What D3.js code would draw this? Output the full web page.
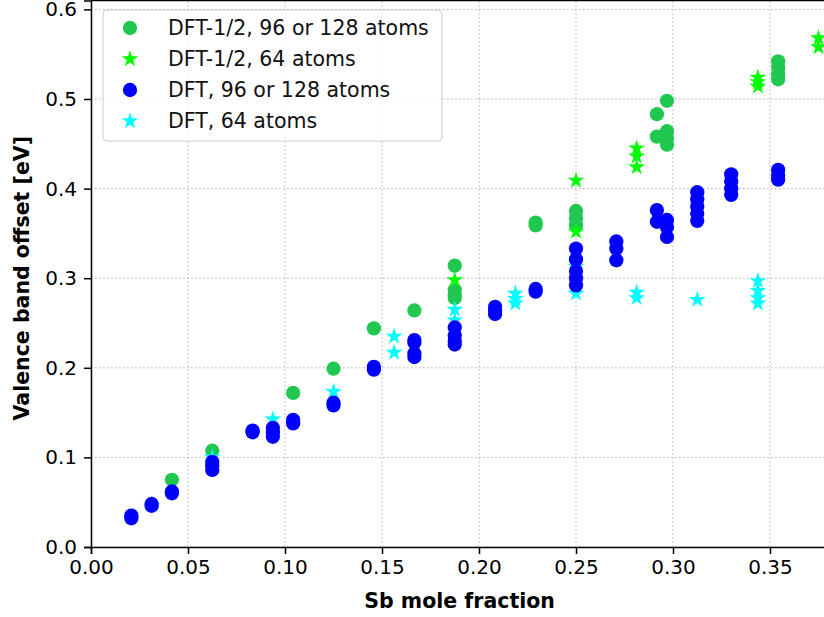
<!DOCTYPE html>
<html>
<head>
<meta charset="utf-8">
<script src="https://cdnjs.cloudflare.com/ajax/libs/d3/7.8.5/d3.min.js"></script>
<style>
  body { margin: 0; background: #fff; }
  svg { display: block; font-family: "DejaVu Sans", sans-serif; }
</style>
</head>
<body>
<div id="chart"></div>
<script>
// tick labels
const xTicks = [0, 0.05, 0.10, 0.15, 0.20, 0.25, 0.30, 0.35];
const yTicks = [0, 0.1, 0.2, 0.3, 0.4, 0.5, 0.6];

// DFT-1/2, 96 or 128 atoms
const halfBigX = [0.0417, 0.0625, 0.1042, 0.125, 0.1458, 0.1667,
    0.1875, 0.1875, 0.1875, 0.1875, 0.2292, 0.2292, 0.25, 0.25, 0.25,
    0.2917, 0.2917, 0.2969, 0.2969, 0.2969, 0.2969,
    0.3542, 0.3542, 0.3542, 0.3542];
const halfBigY = [0.075, 0.1075, 0.172, 0.199, 0.244, 0.264,
    0.314, 0.287, 0.281, 0.278, 0.362, 0.359, 0.375, 0.367, 0.359,
    0.483, 0.458, 0.498, 0.464, 0.456, 0.449,
    0.542, 0.535, 0.528, 0.522];

// DFT-1/2, 64 atoms
const halfSmallX = [0.1875, 0.25, 0.25, 0.28125, 0.28125, 0.28125,
    0.34375, 0.34375, 0.34375, 0.375, 0.375];
const halfSmallY = [0.298, 0.409, 0.352, 0.445, 0.436, 0.424,
    0.524, 0.519, 0.514, 0.568, 0.558];

// DFT, 96 or 128 atoms
const dftBigX = [0.0208, 0.0208, 0.03125, 0.03125, 0.0417, 0.0417,
    0.0625, 0.0625, 0.0625, 0.0833, 0.0833, 0.09375, 0.09375, 0.09375,
    0.1042, 0.1042, 0.125, 0.125, 0.1458, 0.1458,
    0.1667, 0.1667, 0.1667, 0.1667, 0.1875, 0.1875, 0.1875, 0.1875,
    0.2083, 0.2083, 0.2083, 0.2292, 0.2292,
    0.25, 0.25, 0.25, 0.25, 0.25, 0.2708, 0.2708, 0.2708,
    0.2917, 0.2917, 0.2969, 0.2969, 0.2969,
    0.3125, 0.3125, 0.3125, 0.3125, 0.3125,
    0.33, 0.33, 0.33, 0.33, 0.3542, 0.3542, 0.3542];
const dftBigY = [0.032, 0.035, 0.046, 0.048, 0.060, 0.062,
    0.086, 0.091, 0.095, 0.128, 0.130, 0.123, 0.128, 0.133,
    0.138, 0.142, 0.158, 0.161, 0.198, 0.201,
    0.231, 0.228, 0.216, 0.212, 0.245, 0.236, 0.230, 0.226,
    0.268, 0.264, 0.260, 0.285, 0.288,
    0.333, 0.321, 0.308, 0.300, 0.292, 0.341, 0.333, 0.320,
    0.376, 0.363, 0.365, 0.357, 0.346,
    0.396, 0.388, 0.380, 0.372, 0.364,
    0.416, 0.408, 0.400, 0.393, 0.421, 0.415, 0.410];

// DFT, 64 atoms
const dftSmallX = [0.03125, 0.0625, 0.09375, 0.125, 0.15625, 0.15625,
    0.1875, 0.1875, 0.21875, 0.21875, 0.21875, 0.25, 0.25,
    0.28125, 0.28125, 0.3125, 0.34375, 0.34375, 0.34375, 0.34375];
const dftSmallY = [0.047, 0.100, 0.1425, 0.1734, 0.235, 0.217,
    0.265, 0.253, 0.283, 0.277, 0.272, 0.313, 0.283,
    0.284, 0.278, 0.276, 0.297, 0.286, 0.278, 0.272];

const legendNames = ["DFT-1/2, 96 or 128 atoms", "DFT-1/2, 64 atoms",
    "DFT, 96 or 128 atoms", "DFT, 64 atoms"];

const width = 824, height = 617;
const left = 91, bottom = 547;

const svg = d3.select("#chart").append("svg")
    .attr("width", width)
    .attr("height", height);

const x = d3.scaleLinear().domain([0, 0.39]).range([left, left + 0.39 * 1940]);
const y = d3.scaleLinear().domain([0, 0.61]).range([bottom, bottom - 0.61 * 896]);

const series = [
    { xs: halfBigX, ys: halfBigY, color: "#20c850", shape: "circle", name: legendNames[0] },
    { xs: halfSmallX, ys: halfSmallY, color: "#00ff00", shape: "star", name: legendNames[1] },
    { xs: dftBigX, ys: dftBigY, color: "#0000ff", shape: "circle", name: legendNames[2] },
    { xs: dftSmallX, ys: dftSmallY, color: "#00ffff", shape: "star", name: legendNames[3] }
];

function symbolPath(shape) {
    if (shape == "star") return d3.symbol(d3.symbolStar, 88)();
    return d3.symbol(d3.symbolCircle, 160)();
}

// grid
svg.append("g").selectAll("line").data(xTicks).join("line")
    .attr("x1", d => x(d)).attr("x2", d => x(d))
    .attr("y1", y(0)).attr("y2", y(0.61))
    .attr("stroke", "#b0b0b0").attr("stroke-width", 1)
    .attr("stroke-dasharray", "1.5,2.5");
svg.append("g").selectAll("line").data(yTicks).join("line")
    .attr("x1", x(0)).attr("x2", x(0.39))
    .attr("y1", d => y(d)).attr("y2", d => y(d))
    .attr("stroke", "#b0b0b0").attr("stroke-width", 1)
    .attr("stroke-dasharray", "1.5,2.5");

// points, cyan stars go under the blue circles
const drawOrder = [0, 1, 3, 2];
const plot = svg.append("g");
drawOrder.forEach(function (i) {
    const s = series[i];
    plot.append("g").selectAll("path").data(s.xs).join("path")
        .attr("d", symbolPath(s.shape))
        .attr("transform", (d, j) => "translate(" + x(d) + "," + y(s.ys[j]) + ")")
        .attr("fill", s.color);
});

// axes
const xAxis = svg.append("g")
    .attr("transform", "translate(0," + bottom + ")")
    .call(d3.axisBottom(x).tickValues(xTicks).tickFormat(d3.format(".2f")).tickSizeOuter(0).tickSize(7).tickPadding(6));
const yAxis = svg.append("g")
    .attr("transform", "translate(" + left + ",0)")
    .call(d3.axisLeft(y).tickValues(yTicks).tickFormat(d3.format(".1f")).tickSizeOuter(0).tickSize(7).tickPadding(7));
[xAxis, yAxis].forEach(function (a) {
    a.selectAll("text").attr("font-size", 20).attr("fill", "#000")
        .attr("font-family", "DejaVu Sans");
    a.selectAll("line").attr("stroke", "#000").attr("stroke-width", 1.5);
    a.select(".domain").attr("stroke", "#000").attr("stroke-width", 1.5);
});
// top spine
svg.append("line")
    .attr("x1", x(0)).attr("x2", x(0.39))
    .attr("y1", y(0.61)).attr("y2", y(0.61))
    .attr("stroke", "#000").attr("stroke-width", 1.5);

// axis labels
svg.append("text")
    .attr("x", x(0.19)).attr("y", 608)
    .attr("text-anchor", "middle")
    .attr("font-weight", "bold").attr("font-size", 20.5)
    .text("Sb mole fraction");
svg.append("text")
    .attr("transform", "translate(29," + y(0.3) + ") rotate(-90)")
    .attr("text-anchor", "middle")
    .attr("font-weight", "bold").attr("font-size", 20.5)
    .text("Valence band offset [eV]");

// legend
const legend = svg.append("g");
legend.append("rect")
    .attr("x", 103).attr("y", 10).attr("width", 339).attr("height", 131)
    .attr("rx", 4)
    .attr("fill", "#fff").attr("fill-opacity", 0.8)
    .attr("stroke", "#cccccc");
series.forEach(function (s, i) {
    const ry = 28 + i * 31;
    legend.append("path")
        .attr("d", symbolPath(s.shape))
        .attr("transform", "translate(130," + ry + ")")
        .attr("fill", s.color);
    legend.append("text")
        .attr("x", 168).attr("y", ry)
        .attr("dy", "0.36em")
        .attr("font-size", 20.5)
        .attr("fill", "#111")
        .text(s.name);
});
</script>
</body>
</html>
